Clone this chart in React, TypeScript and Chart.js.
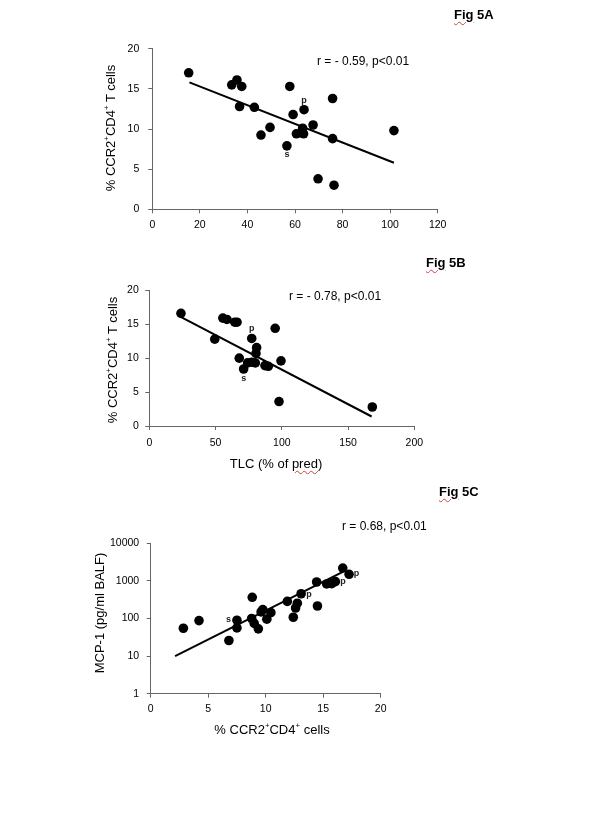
import React, { useEffect, useRef } from "react";
import { Chart, registerables } from "chart.js";

Chart.register(...registerables);

const FONT = '"Liberation Sans", Arial, Helvetica, sans-serif';

// ---------- Panel A ----------
const aX = [15.3, 33.4, 35.6, 37.6, 36.7, 42.9, 45.7, 49.5, 57.8, 59.2, 63.8, 56.6, 60.6, 63.2, 63.6, 67.6, 75.8, 75.8, 69.7, 76.4, 101.6];
const aY = [17.0, 15.5, 16.1, 15.3, 12.8, 12.7, 9.25, 10.2, 15.3, 11.8, 12.4, 7.9, 9.4, 10.1, 9.4, 10.5, 13.8, 8.8, 3.8, 3.0, 9.8];
const aFitX = [15.6, 101.6];
const aFitY = [15.8, 5.8];
const aXTicks = [0, 20, 40, 60, 80, 100, 120];
const aYTicks = [0, 5, 10, 15, 20];
const aNoteIdx = [10, 11];
const aNoteText = ["p", "s"];

// ---------- Panel B ----------
const bX = [23.9, 49.4, 55.5, 58.6, 64.5, 66.2, 67.9, 71.2, 74.2, 77.4, 80.0, 81.0, 80.5, 77.3, 87.3, 89.8, 95.0, 99.4, 97.9, 168.3];
const bY = [16.6, 12.8, 15.9, 15.7, 15.3, 15.3, 10.0, 8.4, 9.3, 9.4, 9.3, 11.55, 10.7, 12.9, 8.9, 8.8, 14.4, 9.6, 3.6, 2.8];
const bFitX = [24.4, 167.8];
const bFitY = [16.0, 1.4];
const bXTicks = [0, 50, 100, 150, 200];
const bYTicks = [0, 5, 10, 15, 20];
const bNoteIdx = [13, 7];
const bNoteText = ["p", "s"];

// ---------- Panel C ----------
const cX = [2.84, 4.2, 6.8, 7.5, 7.5, 8.83, 8.78, 9.0, 9.36, 9.6, 9.75, 10.1, 10.45, 11.88, 12.4, 12.6, 12.75, 13.08, 14.5, 14.43, 15.3, 15.74, 16.06, 16.7, 17.25];
const cY = [55, 88, 26, 90, 56, 366, 100, 74, 53, 150, 172, 96, 143, 285, 108, 190, 255, 455, 215, 935, 830, 845, 955, 2200, 1500];
const cFitX = [2.12, 16.75];
const cFitY = [10, 1760];
const cXTicks = [0, 5, 10, 15, 20];
const cYTicks = [1, 10, 100, 1000, 10000];
const cNoteIdx = [17, 22, 24, 3];
const cNoteText = ["p", "p", "p", "s"];

type PanelCfg = {
  xs: number[]; ys: number[]; fitX: number[]; fitY: number[];
  xTicks: number[]; yTicks: number[]; noteIdx: number[]; noteText: string[];
  logY: boolean;
  height: number;
  pad: { left: number; right: number; top: number; bottom: number };
  yPad: number; xPad: number;
  noteDx: number[]; noteDy: number[];
};

function notesPlugin(cfg: PanelCfg) {
  return {
    id: "notes",
    afterDatasetsDraw(chart: any) {
      const meta = chart.getDatasetMeta(0);
      const ctx = chart.ctx as CanvasRenderingContext2D;
      ctx.save();
      ctx.font = `bold 9px ${FONT}`;
      ctx.fillStyle = "#222";
      ctx.textAlign = "center";
      ctx.textBaseline = "middle";
      cfg.noteIdx.forEach((idx, k) => {
        const el = meta.data[idx];
        if (!el) return;
        ctx.fillText(cfg.noteText[k], el.x + cfg.noteDx[k], el.y + cfg.noteDy[k]);
      });
      ctx.restore();
    },
  };
}

function buildConfig(cfg: PanelCfg): any {
  const Y_W = 40;
  const X_H = 25;
  const axisColor = "#666";
  const tickFont = { family: FONT, size: 10.5 };
  return {
    type: "scatter",
    data: {
      datasets: [
        {
          data: cfg.xs.map((x, i) => ({ x, y: cfg.ys[i] })),
          backgroundColor: "#000",
          borderColor: "#000",
          pointRadius: 4.8,
          pointHoverRadius: 4.8,
          pointBorderWidth: 0,
        },
        {
          data: cfg.fitX.map((x, i) => ({ x, y: cfg.fitY[i] })),
          showLine: true,
          borderColor: "#000",
          borderWidth: 2,
          pointRadius: 0,
          pointHoverRadius: 0,
          fill: false,
        },
      ],
    },
    options: {
      responsive: false,
      animation: false,
      devicePixelRatio: 1,
      events: [],
      layout: { padding: cfg.pad },
      plugins: { legend: { display: false }, tooltip: { enabled: false } },
      scales: {
        x: {
          type: "linear",
          min: cfg.xTicks[0],
          max: cfg.xTicks[cfg.xTicks.length - 1],
          afterBuildTicks: (s: any) => {
            s.ticks = cfg.xTicks.map((v) => ({ value: v }));
          },
          afterFit: (s: any) => {
            s.height = X_H;
            s.paddingLeft = 0;
            s.paddingRight = 0;
          },
          ticks: {
            font: tickFont,
            color: "#000",
            padding: cfg.xPad,
            maxRotation: 0,
            autoSkip: false,
            callback: (v: any) => String(v),
          },
          grid: { drawOnChartArea: false, drawTicks: true, tickLength: 4, color: axisColor, lineWidth: 1 },
          border: { display: true, color: axisColor, width: 1 },
        },
        y: {
          type: cfg.logY ? "logarithmic" : "linear",
          min: cfg.yTicks[0],
          max: cfg.yTicks[cfg.yTicks.length - 1],
          afterBuildTicks: (s: any) => {
            s.ticks = cfg.yTicks.map((v) => ({ value: v }));
          },
          afterFit: (s: any) => {
            s.width = Y_W;
            s.paddingTop = 0;
            s.paddingBottom = 0;
          },
          ticks: {
            font: tickFont,
            color: "#000",
            padding: cfg.yPad,
            autoSkip: false,
            callback: (v: any) => String(v),
          },
          grid: { drawOnChartArea: false, drawTicks: true, tickLength: 4, color: axisColor, lineWidth: 1 },
          border: { display: true, color: axisColor, width: 1 },
        },
      },
    },
    plugins: [notesPlugin(cfg)],
  };
}

function Panel({ top, cfg }: { top: number; cfg: PanelCfg }) {
  const ref = useRef<HTMLCanvasElement>(null);
  useEffect(() => {
    if (!ref.current) return;
    const chart = new Chart(ref.current, buildConfig(cfg));
    return () => chart.destroy();
  }, []);
  return (
    <canvas
      ref={ref}
      width={600}
      height={cfg.height}
      style={{ position: "absolute", left: 0, top, width: 600, height: cfg.height }}
    />
  );
}

// layout: chart areas -> A: x 152.3-437.7, y 48.7-209.3 ; B: x 149.3-414.3, y 290.3-426 ; C: x 150.7-380.7, y 543.3-693.7
const panelA: PanelCfg = {
  xs: aX, ys: aY, fitX: aFitX, fitY: aFitY, xTicks: aXTicks, yTicks: aYTicks,
  noteIdx: aNoteIdx, noteText: aNoteText, logY: false, height: 240,
  pad: { left: 112.3, right: 162.3, top: 48.7, bottom: 240 - 209.3 - 25 },
  yPad: 9, xPad: 6, noteDx: [0, 0], noteDy: [-9.5, 8.5],
};
const panelB: PanelCfg = {
  xs: bX, ys: bY, fitX: bFitX, fitY: bFitY, xTicks: bXTicks, yTicks: bYTicks,
  noteIdx: bNoteIdx, noteText: bNoteText, logY: false, height: 250,
  pad: { left: 109.3, right: 600 - 414.3, top: 50.3, bottom: 250 - 186 - 25 },
  yPad: 6.5, xPad: 7, noteDx: [0, 0], noteDy: [-9.5, 9.5],
};
const panelC: PanelCfg = {
  xs: cX, ys: cY, fitX: cFitX, fitY: cFitY, xTicks: cXTicks, yTicks: cYTicks,
  noteIdx: cNoteIdx, noteText: cNoteText, logY: true, height: 328,
  pad: { left: 110.7, right: 600 - 380.7, top: 53.3, bottom: 328 - 203.7 - 25 },
  yPad: 7.5, xPad: 5, noteDx: [8, 7.5, 7.5, -8.5], noteDy: [0.5, -0.5, -0.5, -0.5],
};

const textBase: React.CSSProperties = {
  position: "absolute",
  fontFamily: FONT,
  color: "#000",
  whiteSpace: "nowrap",
  lineHeight: 1,
};
const wavy: React.CSSProperties = {
  textDecorationLine: "underline",
  textDecorationStyle: "wavy",
  textDecorationColor: "#d04040",
  textDecorationThickness: "1px",
  textUnderlineOffset: "2px",
};
const supS: React.CSSProperties = { fontSize: "0.6em", verticalAlign: "super", lineHeight: 0 };

function Sup() {
  return <sup style={supS}>+</sup>;
}

function YTitle({ x, y, children }: { x: number; y: number; children: React.ReactNode }) {
  return (
    <div style={{ ...textBase, fontSize: 13, left: x, top: y, transform: "translate(-50%, -50%) rotate(-90deg)" }}>
      {children}
    </div>
  );
}
function XTitle({ x, y, children }: { x: number; y: number; children: React.ReactNode }) {
  return (
    <div style={{ ...textBase, fontSize: 13, left: x, top: y, transform: "translate(-50%, -50%)" }}>
      {children}
    </div>
  );
}
function Note({ x, y, children }: { x: number; y: number; children: React.ReactNode }) {
  return <div style={{ ...textBase, fontSize: 12, left: x, top: y - 6 }}>{children}</div>;
}
function FigLabel({ x, y, letter }: { x: number; y: number; letter: string }) {
  return (
    <div style={{ ...textBase, fontSize: 13, fontWeight: "bold", left: x, top: y - 6.5 }}>
      <span style={wavy}>Fig</span> 5{letter}
    </div>
  );
}

export default function App() {
  return (
    <div style={{ position: "absolute", left: 0, top: 0, width: 600, height: 818, background: "#fff", overflow: "hidden" }}>
      <Panel top={0} cfg={panelA} />
      <Panel top={240} cfg={panelB} />
      <Panel top={490} cfg={panelC} />

      <FigLabel x={454} y={14} letter="A" />
      <FigLabel x={426} y={262} letter="B" />
      <FigLabel x={439} y={491} letter="C" />

      <Note x={317} y={61}>r = - 0.59, p&lt;0.01</Note>
      <Note x={289} y={296}>r = - 0.78, p&lt;0.01</Note>
      <Note x={342} y={526}>r = 0.68, p&lt;0.01</Note>

      <YTitle x={110} y={127.5}>
        % CCR2<Sup />CD4<Sup /> T cells
      </YTitle>
      <YTitle x={111.7} y={359.7}>
        % CCR2<Sup />CD4<Sup /> T cells
      </YTitle>
      <YTitle x={99.3} y={613}>
        MCP-1 (pg/ml BALF)
      </YTitle>

      <XTitle x={276} y={463}>
        TLC (% of <span style={wavy}>pred</span>)
      </XTitle>
      <XTitle x={272} y={729.3}>
        % CCR2<Sup />CD4<Sup /> cells
      </XTitle>
    </div>
  );
}
